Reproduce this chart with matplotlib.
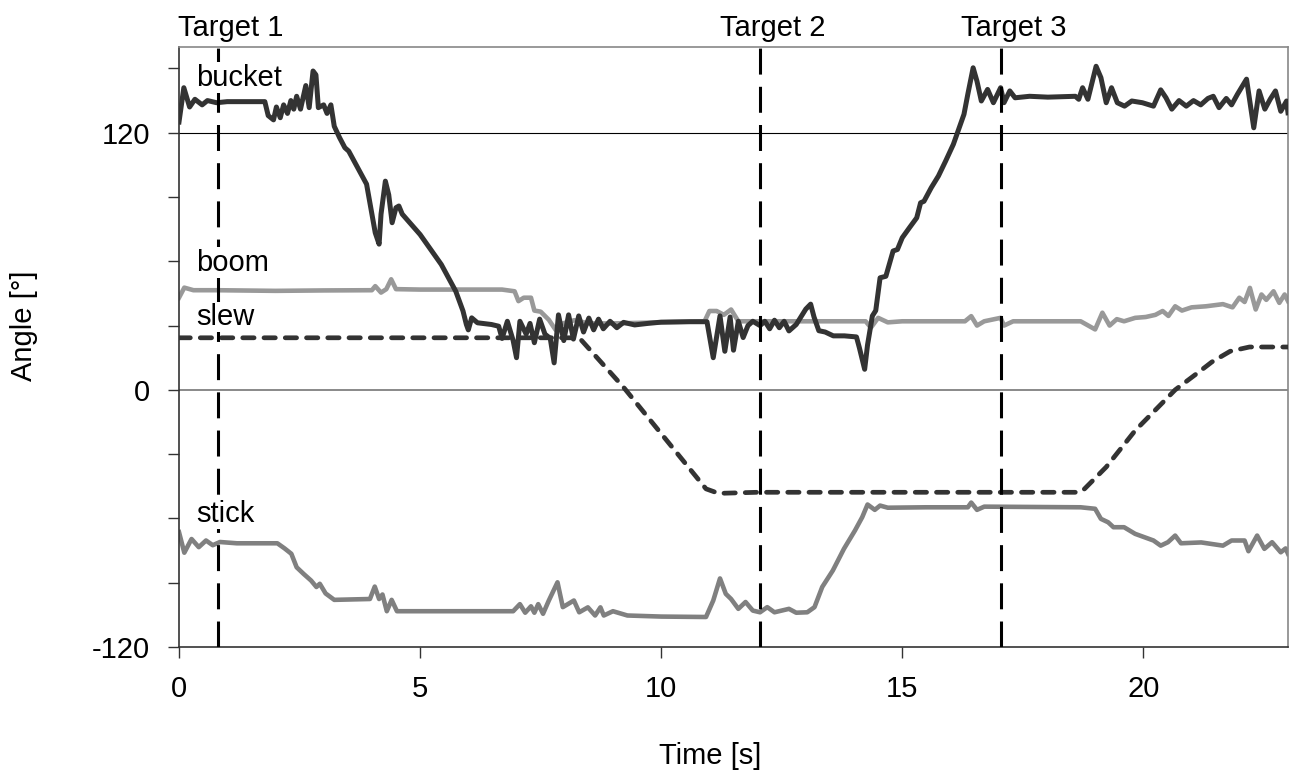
"""Excavator joint angles during the three-target move."""
import matplotlib
matplotlib.use('Agg')
import matplotlib.pyplot as plt

# ======== Data ========
bucket_t = [0.0, 0.1, 0.22, 0.33, 0.48, 0.59, 0.78, 1.0, 1.5, 1.78, 1.85, 1.96, 2.02, 2.1, 2.17,
            2.25, 2.32, 2.38, 2.44, 2.52, 2.63, 2.7, 2.78, 2.84, 2.89, 3.0, 3.07, 3.15, 3.22, 3.33,
            3.44, 3.52, 3.89, 4.0, 4.07, 4.15, 4.19, 4.28, 4.35, 4.42, 4.5, 4.56, 4.63, 5.0, 5.44,
            5.74, 5.89, 5.96, 6.0, 6.07, 6.19, 6.48, 6.63, 6.7, 6.81, 6.93, 7.0, 7.07, 7.2, 7.28,
            7.37, 7.48, 7.59, 7.7, 7.78, 7.87, 7.98, 8.08, 8.18, 8.29, 8.39, 8.5, 8.6, 8.7, 8.8,
            8.94, 9.08, 9.22, 9.45, 9.72, 10.0, 10.6, 10.95, 11.08, 11.22, 11.32, 11.43, 11.5, 11.6,
            11.7, 11.8, 11.9, 12.05, 12.15, 12.25, 12.35, 12.45, 12.55, 12.65, 12.8, 13.0, 13.1,
            13.17, 13.27, 13.4, 13.57, 13.8, 14.05, 14.11, 14.22, 14.28, 14.38, 14.45, 14.54, 14.66,
            14.81, 14.9, 15.0, 15.15, 15.3, 15.38, 15.45, 15.6, 15.75, 15.9, 16.06, 16.17, 16.28,
            16.36, 16.47, 16.55, 16.64, 16.77, 16.89, 17.04, 17.11, 17.23, 17.34, 17.64, 18.02,
            18.59, 18.66, 18.74, 18.85, 19.02, 19.12, 19.23, 19.34, 19.46, 19.61, 19.76, 19.98,
            20.21, 20.36, 20.47, 20.59, 20.74, 20.89, 21.04, 21.19, 21.34, 21.45, 21.57, 21.72,
            21.83, 21.95, 22.14, 22.29, 22.4, 22.52, 22.63, 22.74, 22.85, 22.97, 23.0]
bucket_v = [125, 141, 132, 135.6, 133, 135, 134, 134.5, 134.5, 134.5, 128, 126, 132, 127, 133,
            129, 135, 131, 137, 131, 142, 131.7, 148.8, 147, 131.7, 133, 129, 133, 123, 117.7,
            113, 111.4, 96, 82, 73.3, 68, 82, 97.4, 91, 78, 85, 85.8, 82, 72.5, 58.5,
            46, 36.8, 30.5, 28, 33.6, 31.3, 30.5, 29.7, 24, 32, 23, 15, 32, 26, 31,
            22, 33, 26, 24, 12.6, 35, 23, 35, 23.7, 34.5, 27, 33.5, 28, 33, 28.5,
            32, 29, 31.5, 30.3, 31, 31.6, 31.8, 31.8, 15, 34.5, 18, 34, 18.5, 32,
            24.4, 30, 32, 30, 32, 28.5, 32.5, 29, 32, 27.5, 30.5, 37.7, 40,
            34, 27.6, 27, 25.2, 25.2, 24.7, 19.7, 9.6, 21, 34.5, 37, 52.3, 53,
            64.8, 65.5, 71, 75.7, 80.3, 87.3, 88, 94.3, 99.8, 106.8, 114.6, 121.6, 128.6,
            138, 150.3, 144, 134.8, 140.2, 134, 141, 134, 139.5, 136.3, 137, 136.6,
            137, 135.6, 141, 135.6, 151, 145.7, 134, 141, 134, 132.4, 134.8, 134,
            132.4, 140, 136.3, 131, 135, 132.4, 135, 133, 136, 137, 131.7, 136,
            133, 137.9, 145, 122.3, 139.5, 131, 135.6, 139.5, 130, 134.8, 129.3]

boom_t = [0.0, 0.11, 0.3, 0.8, 2.0, 3.0, 4.0, 4.07, 4.19, 4.3, 4.4, 4.5, 5.0, 6.0, 6.7, 6.96,
          7.04, 7.15, 7.3, 7.37, 7.5, 7.67, 7.81, 7.96, 8.2, 8.5, 9.0, 10.0, 10.9, 11.0, 11.15,
          11.3, 11.45, 11.6, 12.0, 13.03, 14.24, 14.35, 14.5, 14.7, 15.0, 16.3, 16.43, 16.55,
          16.7, 17.04, 17.11, 17.3, 18.7, 19.0, 19.15, 19.3, 19.45, 19.6, 19.83, 20.05, 20.25,
          20.4, 20.52, 20.66, 20.8, 21.0, 21.3, 21.65, 21.85, 21.99, 22.1, 22.21, 22.33, 22.45,
          22.55, 22.7, 22.82, 22.93, 23.0]
boom_v = [43, 47.7, 46.5, 46.5, 46.2, 46.4, 46.5, 48.4, 45.4, 47, 51.6, 47, 46.8, 46.8, 46.8, 46,
          41.4, 43, 43, 37, 36.5, 32.7, 28, 31, 32.5, 31, 31, 31.5, 32, 36.8, 36.8,
          35, 37.5, 32, 32, 32, 32, 29, 33.6, 31.5, 32, 32, 34.4, 30,
          32, 33.6, 30, 32, 32, 28.2, 36, 30, 33, 32, 33.6, 34, 35,
          36.8, 34.5, 39, 37, 38.5, 39, 40, 38.5, 43, 41, 47.6, 37.5, 44.5,
          42, 46, 40.6, 44.5, 41.4]

slew_t = [0.0, 8.3, 9.22, 10.93, 11.19, 12.0, 18.66, 18.78, 19.23, 19.83, 20.66, 21.19, 21.42,
          21.8, 22.2, 23.0]
slew_v = [24.3, 24.3, 1.2, -46.2, -48.3, -47.8, -47.8, -46.2, -36, -19, 0, 9, 13,
          18, 20, 20]

stick_t = [0.0, 0.11, 0.26, 0.41, 0.56, 0.7, 0.85, 1.2, 2.04, 2.19, 2.33, 2.44, 2.59, 2.74, 2.85,
           2.92, 3.04, 3.22, 3.96, 4.06, 4.15, 4.22, 4.31, 4.41, 4.52, 6.93, 7.07, 7.18, 7.3,
           7.37, 7.45, 7.55, 7.67, 7.85, 7.96, 8.19, 8.3, 8.48, 8.63, 8.74, 8.81, 9.0, 9.3, 10.0,
           10.93, 11.08, 11.22, 11.34, 11.45, 11.6, 11.75, 11.9, 12.05, 12.2, 12.35, 12.5, 12.65,
           12.8, 13.03, 13.18, 13.34, 13.56, 13.79, 14.02, 14.17, 14.28, 14.43, 14.54, 14.7, 15.5,
           16.36, 16.43, 16.55, 16.7, 18.7, 19.0, 19.12, 19.27, 19.38, 19.6, 19.83, 20.21, 20.36,
           20.51, 20.66, 20.78, 21.2, 21.65, 21.83, 22.1, 22.18, 22.36, 22.51, 22.67, 22.85,
           22.95, 23.0]
stick_v = [-66.4, -76, -69.6, -73.4, -70.3, -72.5, -71, -71.6, -71.6, -74, -76.5, -82.8, -86, -89, -92,
           -90.5, -95, -98, -97.6, -91.8, -97.6, -95.5, -103.3, -98, -103.3, -103.3, -100, -104, -101,
           -104, -100, -104.5, -98.3, -89.8, -101.4, -98.3, -103.8, -101.5, -105.3, -101.5, -105.3, -103.3, -105.3, -105.8,
           -106, -98.3, -88, -95.2, -97.6, -102.2, -99, -103, -103.8, -101.4, -103.8, -103, -102.2,
           -104, -103.8, -101.4, -92, -84.3, -74.2, -65.6, -59.4, -53.5, -56, -54, -55, -54.8,
           -54.8, -52.6, -56, -54.5, -54.8, -55.5, -60.2, -61.8, -64.1, -64.1, -67.2, -70.3, -72.7,
           -71.1, -68, -71.6, -71.2, -72.7, -70.3, -70.3, -75.3, -68, -74.2, -71.1, -75.8,
           -74, -76.5]

target_t = [0.8, 12.05, 17.05]
target_names = ['Target 1', 'Target 2', 'Target 3']

series_names = ['bucket', 'boom', 'slew', 'stick']
series_label_y = [145.7, 59.3, 34, -57.9]

ytick_vals = [-120, -90, -60, -30, 0, 30, 60, 90, 120, 150]
ytick_labels = ['-120', '', '', '', '0', '', '', '', '120', '']
xtick_vals = [0, 5, 10, 15, 20]

# ======== Style ========
FS = 21
plt.rcParams.update({'font.family': 'Liberation Sans', 'font.size': FS})

fig = plt.figure(figsize=(12.91, 7.71), dpi=100)
ax = fig.add_axes([179 / 1291, 1 - 647 / 771, 1109 / 1291, 600 / 771])

ax.axhline(120, color='black', lw=0.8, zorder=1)
ax.axhline(0, color='#808080', lw=1.3, zorder=1)

ax.plot(boom_t, boom_v, color='#999999', lw=3.3, zorder=2)
ax.plot(stick_t, stick_v, color='#808080', lw=3.3, zorder=2)
ax.plot(slew_t, slew_v, color='#333333', lw=3.4, ls=(0, (2.4, 2.1)),
        dash_capstyle='round', zorder=3)
ax.plot(bucket_t, bucket_v, color='#333333', lw=3.6, zorder=4)

for t, name in zip(target_t, target_names):
    ax.axvline(t, color='black', lw=2.2, ls=(0, (8.5, 4)), zorder=5)
    ax.text(t + 0.27, 165.3, name, ha='center', va='baseline', fontsize=FS, clip_on=False)

# series names sit on white boxes that hide the Target 1 line behind them
for name, y in zip(series_names, series_label_y):
    ax.text(0.35, y, name, ha='left', va='center', fontsize=FS, zorder=6,
            bbox=dict(boxstyle='square,pad=0.05', fc='white', ec='none'))

ax.set_xlim(0, 23)
ax.set_ylim(-120, 160)
ax.set_xticks(xtick_vals)
ax.set_yticks(ytick_vals)
ax.set_yticklabels(ytick_labels)
ax.tick_params(direction='out', length=8, width=1, colors='#333333', labelcolor='black',
               labelsize=FS)
ax.tick_params(axis='y', pad=13)
ax.tick_params(axis='x', pad=12)

for side in ['left', 'bottom']:
    ax.spines[side].set_color('#333333')
    ax.spines[side].set_linewidth(1.2)
for side in ['top', 'right']:
    ax.spines[side].set_color('#888888')
    ax.spines[side].set_linewidth(1.2)

fig.text(710 / 1291, 1 - 756 / 771, 'Time [s]', ha='center', va='center', fontsize=FS)
fig.text(24 / 1291, 1 - 326 / 771, 'Angle [°]', ha='center', va='center',
         rotation=90, fontsize=FS)

fig.savefig('out.png', dpi=100)
